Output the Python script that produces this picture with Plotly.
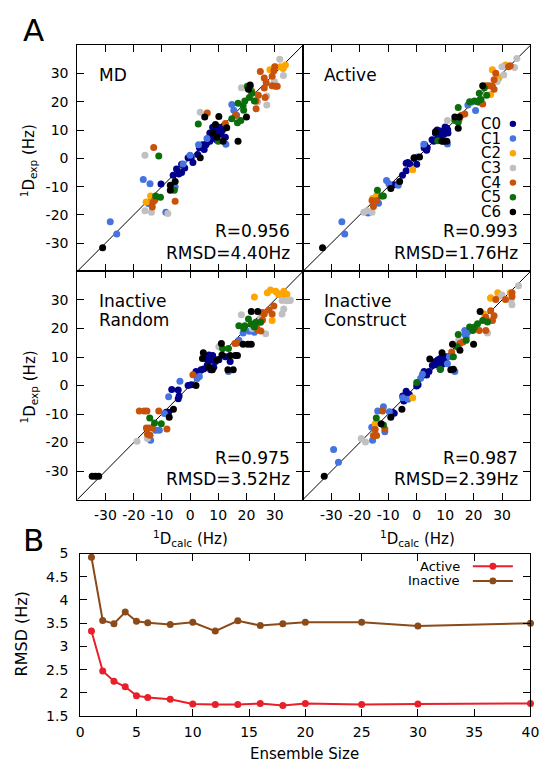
import plotly.graph_objects as go

W, H = 560, 775
FONT = "DejaVu Sans"

# ---------------- data ----------------
CLUSTERS = ["C0", "C1", "C2", "C3", "C4", "C5", "C6"]
CLUSTER_COLORS = ["#00008b", "#4573e0", "#ffa500", "#c0c0c0", "#c8520a", "#0b6e0b", "#000000"]

AXIS_RANGE = [-40, 40]
TICKS_A = [-30, -20, -10, 0, 10, 20, 30]
TICKTEXT_A = ["-30", "-20", "-10", "0", "10", "20", "30"]

# (cluster index, 1D_calc, 1D_exp)
md_points = [
    (0, -10.3, -9.1), (0, -6, -6), (0, -4, -5.5), (0, -4.8, -3.8), (0, -3, -2.1), (0, -3, -5), (0, -1.9, -3.4),
    (0, -0.7, 0.2), (0, 0.4, 0.2), (0, 1, -1.5), (0, 2.7, 1.4), (0, 3.3, 3.7), (0, 4.4, 4.8), (0, 5, 3.1),
    (0, 5.6, 4.8), (0, 6.5, 7), (0, 7, 6), (0, 7.5, 8.5), (0, 8, 7), (0, 8.5, 9.5), (0, 9, 8), (0, 9.5, 10.5),
    (0, 10, 9), (0, 10.5, 11), (0, 11, 8.5), (0, 11.5, 10), (0, 12, 11.5), (0, 8, 11), (0, 7, 9), (0, 12.5, 7.5),
    (0, 6, 5.5), (0, 9.5, 6.5),
    (1, -28.3, -22.4), (1, -26, -26.8), (1, -16.6, -7.5), (1, -14.2, -9), (1, -5.3, -10.1), (1, -8.6, -19.1),
    (1, -14.8, -16), (1, 0, 1.1), (1, 3, 4.8), (1, 12.7, 5), (1, 14.8, 19), (1, 16.5, 15.2), (1, 15.5, 17),
    (1, -2.5, -2), (1, 6, 7),
    (2, -15.6, -15.4), (2, -14, -13.3), (2, 28.3, 31.3), (2, 30.2, 32.4), (2, 32, 32.4), (2, 33.8, 33),
    (2, 33, 31.8), (2, 22, 23),
    (3, -16, 1.1), (3, -16, -18.5), (3, -13.7, -19.1), (3, -7.9, -19.5), (3, 3.6, 16.3), (3, 18.2, 25),
    (3, 27.2, 22), (3, 27.2, 18.9), (3, 29.9, 27.2), (3, 31.8, 35), (3, 33.1, 29.3), (3, 20, 25), (3, 24, 20),
    (4, -12.9, 3.8), (4, -13, -15.3), (4, -13.4, -17.2), (4, -12.5, -14.7), (4, -5.3, -15.2), (4, 6.1, 16),
    (4, 12.5, 12.3), (4, 16.1, 15.2), (4, 21.9, 23.7), (4, 23.4, 20.3), (4, 24.9, 30.7), (4, 26.3, 28.4),
    (4, 27, 26.7), (4, 26.3, 24.9), (4, 24.2, 22.3), (4, 23.4, 17.5), (4, 26.6, 21.5), (4, 29.1, 25.7),
    (4, 30.2, 25.5), (4, 30.9, 25.5), (4, 29.1, 29), (4, 30, 32.4), (4, 29.7, 31),
    (5, -11.1, 0.8), (5, -12.2, -13.3), (5, -10.5, -13.8), (5, -5.6, -11.3), (5, 2.9, 12.1), (5, 10, 6),
    (5, 14.8, 14), (5, 16.8, 12.6), (5, 18, 13.4), (5, 18.8, 18.6), (5, 19.4, 20.3), (5, 21, 21.5),
    (5, 21.9, 23), (5, 20.3, 25.5), (5, 21.3, 25.5), (5, 22.8, 20.3), (5, 17, 19.5), (5, 19, 17),
    (6, -31, -31.6), (6, -7, -9.5), (6, -7, -11.3), (6, -5.3, -8.2), (6, 3.6, 0.2), (6, 5.2, 14.6),
    (6, 10.2, 14.8), (6, 9, 12), (6, 13, 10.8), (6, 11.7, 6), (6, 17, 6), (6, 20, 14.6), (6, 21.3, 25.9),
    (6, 20.7, 24.4), (6, 9.5, 7.5), (6, 8, 9),
]

active_points = [
    (0, -7.9, -9.3), (0, -5, -6), (0, -3.7, -4.4), (0, -3.1, -1.5), (0, -2.5, -2), (0, -3.7, -1.7), (0, 0, -2.1),
    (0, -0.9, 0), (0, 2.8, 4.8), (0, 3.7, 3.7), (0, 2.6, 3.7), (0, 3.5, 2.9), (0, 5.4, 6.6), (0, 6.6, 8.9),
    (0, 7.2, 10), (0, 8.3, 9.7), (0, 8.9, 8.9), (0, 10, 11.1), (0, 10.6, 10.6), (0, 9.5, 8.4), (0, 8.3, 7.9),
    (0, 6, 6), (0, 10.9, 10), (0, 7.5, 7.5), (0, 11, 9),
    (1, -26.3, -22.4), (1, -25.3, -26.8), (1, -17.1, -19.3), (1, -13.4, -15.9), (1, -10.6, -7.8),
    (1, -9.8, -9), (1, -6.5, -9.5), (1, 0.3, 0.5), (1, 2.5, 5), (1, 10.8, 5.1), (1, 18, 18.9), (1, 19.2, 19.8),
    (1, 20.7, 16.9),
    (2, -14.2, -13.3), (2, -15.5, -14.2), (2, -1.4, -4), (2, 26, 22.6), (2, 26.6, 31.3), (2, 31.2, 33),
    (2, 28.9, 28.4),
    (3, -18.6, -19.1), (3, -15.7, -19.1), (3, -17.5, -18.5), (3, 10.8, 13.4), (3, 28.3, 27.2), (3, 30, 32.4),
    (3, 30.6, 29.5), (3, 34.4, 32.1), (3, 35.2, 35.3),
    (4, -15.2, -17), (4, -15.7, -14.9), (4, -14, -14.9), (4, 15.7, 15.2), (4, 16.9, 15.7), (4, 15, 14),
    (4, 23.2, 19.2), (4, 22, 19.8), (4, 24.4, 25.7), (4, 25.5, 25.7), (4, 26.6, 25.5), (4, 27.2, 24.4),
    (4, 27.2, 27.8), (4, 27.8, 30.1), (4, 32.3, 32.4), (4, 32.9, 32.7),
    (5, -13.8, -11.3), (5, -12.3, -13.3), (5, -11.7, -13.3), (5, 7.4, 6.2), (5, 13.4, 13.4), (5, 14.6, 12.8),
    (5, 14.6, 18), (5, 18.6, 20), (5, 20.3, 20.3), (5, 21.4, 20), (5, 22, 23), (5, 23.8, 25), (5, 22.6, 20.8),
    (5, 24.6, 22.3),
    (6, -33.1, -31.6), (6, -9.1, -10.7), (6, -6, -8.2), (6, -0.9, 0.2), (6, 1, 0.5), (6, 6.6, 9.4),
    (6, 8.9, 6), (6, 10.6, 6), (6, 9.5, 6), (6, 14.6, 10.6), (6, 13.4, 14.6), (6, 15, 14.6), (6, 23.2, 25.7),
]

inactive_random_points = [
    (0, -8.5, -9.4), (0, -7.6, -9.4), (0, -6.5, -1.4), (0, -4.2, -1.6), (0, -3.9, -3.7), (0, -4.2, -4.6),
    (0, -0.7, 0), (0, 0.4, 0.3), (0, 2.1, 4.9), (0, 3.9, 5.5), (0, 5.6, 9.5), (0, 6.7, 10.7), (0, 7.9, 9),
    (0, 6.1, 7.2), (0, 7.3, 5.5), (0, 8.4, 6.4), (0, 4.8, 5.8), (0, 9, 8.4), (0, 10.2, 9), (0, 14.2, 8.4),
    (0, 12.5, 10.1), (0, 6.5, 8.5), (0, 8, 10.5),
    (1, -14, -19.2), (1, -12.2, -15.7), (1, -10.9, -15.7), (1, -9.1, -9.8), (1, -7.6, -3.9), (1, -3.6, 1.5),
    (1, 3.3, 3.2), (1, 2.5, 2.5), (1, 13.6, 4.9), (1, 17.3, 15.9), (1, 18.8, 18.4), (1, 22.8, 18.7),
    (1, 21, 19),
    (2, 22.8, 31), (2, 27.4, 32.5), (2, 30.3, 33.1), (2, 31.4, 32), (2, 32.6, 31.4), (2, 33.2, 33.1),
    (2, 34.3, 32), (2, 30.6, 32.8), (2, 29.1, 22.8), (2, 28.5, 33.5),
    (3, -18.8, -19.5), (3, -15.1, -18.6), (3, 10.2, 13.6), (3, 18.2, 24.8), (3, 26.8, 18.2), (3, 25, 23.5),
    (3, 33.2, 26.8), (3, 32.6, 25.1), (3, 34.3, 29.7), (3, 35.4, 29.8), (3, 32.6, 29.8), (3, 35.5, 30),
    (3, 22, 20),
    (4, -18, -8.9), (4, -16.3, -8.9), (4, -15.3, -8.9), (4, -11.1, -8.9), (4, -15.5, -14.9), (4, -14.5, -14.9),
    (4, -13.4, -14.9), (4, -15.1, -17.1), (4, -14.2, -17.4), (4, -8.2, -15.2), (4, 1, 3.8), (4, 15.9, 14.7),
    (4, 16.8, 14.9), (4, 25.7, 25.6), (4, 25.1, 19.1), (4, 24, 19.6), (4, 23.5, 21), (4, 26.3, 25.1),
    (4, 29.1, 25.1), (4, 29.7, 27.9), (4, 28, 26.5), (4, 25.7, 23),
    (5, -14.3, -11.4), (5, -12.6, -13.1), (5, -10.2, -13.4), (5, 11.5, 13), (5, 13.6, 13), (5, 17.3, 21),
    (5, 19.4, 21), (5, 21.7, 21.6), (5, 23.3, 22.2), (5, 25, 22.2), (5, 20.7, 23.3), (5, 22.8, 20.5),
    (5, 19, 20),
    (6, -34.7, -31.8), (6, -33.5, -31.8), (6, -32.4, -31.8), (6, -7.4, -11.1), (6, -5.9, -8.3), (6, 2.1, 0),
    (6, 4.7, 11.5), (6, 4.4, 9.5), (6, 6.5, 6.4), (6, 7.9, 5.5), (6, 9.6, 9), (6, 11.3, 10.7), (6, 13.4, 5.5),
    (6, 15.3, 5.5), (6, 11.1, 14.7), (6, 14.2, 10.5), (6, 16.8, 10.5), (6, 16, 10.5), (6, 18.8, 14.5),
    (6, 21.7, 14.5), (6, 20.5, 14.5), (6, 21.7, 26), (6, 24, 26),
]

inactive_construct_points = [
    (0, -7.9, -9.7), (0, -8.5, -9.4), (0, -4.5, -5.4), (0, -3.7, -2), (0, -4.9, -3.7), (0, -2.6, -3.1),
    (0, 0, -0.2), (0, 0.5, 0.3), (0, 2.6, 4.9), (0, 4.3, 4.9), (0, 3.5, 3.7), (0, 6.6, 8.4), (0, 8.3, 9.5),
    (0, 9.4, 10.1), (0, 10, 9), (0, 10.5, 10.1), (0, 7.2, 7.2), (0, 8.3, 5.7), (0, 9, 7.5), (0, 7.5, 9),
    (0, 5.5, 7), (0, 10, 8),
    (1, -29.2, -22.4), (1, -27.5, -26.9), (1, -15.5, -19.2), (1, -13.7, -8.9), (1, -11.7, -7.4),
    (1, -11.2, -16.2), (1, -15.8, -14.6), (1, -9.6, -9.2), (1, -4.9, -4.3), (1, -3.1, -4.8), (1, 1.4, 2.6),
    (1, 2, 4), (1, 10.8, 7.6), (1, 13.4, 4.9), (1, 11.5, 10.1), (1, 12.3, 10.1), (1, 16.9, 19.3),
    (1, 17.4, 17), (1, 17.9, 18.7), (1, 17, 18),
    (2, -14.6, -13.4), (2, -1.4, -4.3), (2, 23.8, 25.1), (2, 26.6, 22.8), (2, 26, 30.8), (2, 28.9, 31.4),
    (2, 32.9, 32.5), (2, 28.5, 32.5), (2, 26, 30.6),
    (3, -19.5, -18.6), (3, -18, -19.8), (3, 14.8, 15.9), (3, 24.9, 18.4), (3, 29.8, 31.4), (3, 33.2, 29.7),
    (3, 30, 31.7), (3, 35.8, 35), (3, 33.5, 28.3),
    (4, -12, -8.9), (4, -14.6, -15.4), (4, -15.2, -17.5), (4, -14.1, -17.5), (4, -11.2, -15.2),
    (4, 12.3, 11.8), (4, 15.2, 14.7), (4, 16.3, 15.3), (4, 22, 19.3), (4, 24.3, 19.3), (4, 24.3, 23.9),
    (4, 26, 26.2), (4, 27.2, 24.5), (4, 26.6, 22.8), (4, 27.8, 30.2), (4, 31.2, 30.2), (4, 33.5, 32.5),
    (4, 33.5, 31.2),
    (5, -14.2, -11.4), (5, -11.7, -13.8), (5, 0, 1.1), (5, 8.3, 5.7), (5, 12.9, 10.1), (5, 14.2, 13.6),
    (5, 14.6, 17.9), (5, 17.4, 15.9), (5, 18.6, 20.5), (5, 20.3, 20.5), (5, 19.7, 19.3), (5, 21.4, 21.7),
    (5, 23.2, 22.8), (5, 24.9, 22.3),
    (6, -32.5, -31.8), (6, -12.5, -13.4), (6, -9.1, -11.1), (6, -5.2, -8.3), (6, 4.6, 9.3), (6, 8.9, 11.5),
    (6, 12, 5.5), (6, 12.9, 5.7), (6, 12.6, 14.5), (6, 15.2, 12.4), (6, 20, 14.5), (6, 22.3, 26),
]

PANEL_POINTS = [md_points, active_points, inactive_random_points, inactive_construct_points]
PANEL_NAMES = [["MD"], ["Active"], ["Inactive", "Random"], ["Inactive", "Construct"]]
PANEL_R = ["0.956", "0.993", "0.975", "0.987"]
PANEL_RMSD = ["4.40", "1.76", "3.52", "2.39"]

ensemble_size = [1, 2, 3, 4, 5, 6, 8, 10, 12, 14, 16, 18, 20, 25, 30, 40]
rmsd_active = [3.33, 2.47, 2.25, 2.13, 1.94, 1.90, 1.86, 1.76, 1.75, 1.75, 1.77, 1.73, 1.77, 1.75, 1.76, 1.77]
rmsd_inactive = [4.92, 3.56, 3.49, 3.74, 3.54, 3.51, 3.47, 3.52, 3.33, 3.55, 3.45, 3.49, 3.52, 3.52, 3.44, 3.50]
B_SERIES = [("Active", rmsd_active, "#e8202a"), ("Inactive", rmsd_inactive, "#8b4a1a")]
B_XTICKS = [0, 5, 10, 15, 20, 25, 30, 35, 40]
B_YTICKS = [1.5, 2, 2.5, 3, 3.5, 4, 4.5, 5]
B_YTICKTEXT = ["1.5", "2", "2.5", "3", "3.5", "4", "4.5", "5"]

# ---------------- layout helpers (pixel -> paper) ----------------
def fx(px):
    return px / W

def fy(py):
    return 1 - py / H

# panel boxes in pixels: (left, right, top, bottom)
PANEL_BOX = [(75, 306, 38, 269), (306, 539, 38, 269), (75, 306, 269, 502), (306, 539, 269, 502)]
B_BOX = (78, 539, 557, 723)

fig = go.Figure()
layout = {}

axis_common = dict(
    showline=True, linecolor="black", linewidth=1, mirror="ticks", ticks="inside",
    ticklen=7, tickcolor="black", tickwidth=1, showgrid=False, zeroline=False, tickangle=0,
    tickfont=dict(family=FONT, size=14, color="black"),
)

for i, pts in enumerate(PANEL_POINTS):
    n = i + 1
    xa = "x" if n == 1 else f"x{n}"
    ya = "y" if n == 1 else f"y{n}"
    l, r, t, b = PANEL_BOX[i]
    layout["xaxis" if n == 1 else f"xaxis{n}"] = dict(
        axis_common, domain=[fx(l), fx(r)], range=AXIS_RANGE, tickvals=TICKS_A, ticktext=TICKTEXT_A,
        anchor=ya, showticklabels=(i >= 2), ticklabelstandoff=3,
    )
    layout["yaxis" if n == 1 else f"yaxis{n}"] = dict(
        axis_common, domain=[fy(b), fy(t)], range=AXIS_RANGE, tickvals=TICKS_A, ticktext=TICKTEXT_A,
        anchor=xa, showticklabels=(i % 2 == 0), ticklabelstandoff=5,
    )
    # y = x reference line across the axis range
    fig.add_trace(go.Scatter(x=AXIS_RANGE, y=AXIS_RANGE, mode="lines",
                             line=dict(color="black", width=1), xaxis=xa, yaxis=ya,
                             showlegend=False, hoverinfo="skip"))
    for c, name in enumerate(CLUSTERS):
        xs = [p[1] for p in pts if p[0] == c]
        ys = [p[2] for p in pts if p[0] == c]
        fig.add_trace(go.Scatter(x=xs, y=ys, mode="markers", name=name,
                                 marker=dict(color=CLUSTER_COLORS[c], size=7, line=dict(width=0)),
                                 xaxis=xa, yaxis=ya, showlegend=False))

# panel B
layout["xaxis5"] = dict(axis_common, domain=[fx(B_BOX[0]), fx(B_BOX[1])], range=[0, 40],
                        tickvals=B_XTICKS, anchor="y5", ticklabelstandoff=3)
layout["yaxis5"] = dict(axis_common, domain=[fy(B_BOX[3]), fy(B_BOX[2])], range=[1.5, 5],
                        tickvals=B_YTICKS, ticktext=B_YTICKTEXT, anchor="x5", ticklabelstandoff=8)
for name, vals, color in B_SERIES:
    fig.add_trace(go.Scatter(x=ensemble_size, y=vals, mode="lines+markers", name=name,
                             line=dict(color=color, width=2), marker=dict(color=color, size=7),
                             xaxis="x5", yaxis="y5", showlegend=False, cliponaxis=False))

annotations = []
shapes = []

def txt(text, x, y, size, xanchor="center", yanchor="middle", angle=0):
    annotations.append(dict(text=text, x=fx(x), y=fy(y), xref="paper", yref="paper",
                            showarrow=False, xanchor=xanchor, yanchor=yanchor, textangle=angle,
                            font=dict(family=FONT, size=size, color="black")))

# panel texts
for i in range(4):
    l, r, t, b = PANEL_BOX[i]
    for k, line in enumerate(PANEL_NAMES[i]):
        txt(line, l + 20, t + 30 + 20 * k, 17, xanchor="left")
    txt(f"R={PANEL_R[i]}", r - 11, t + 190, 17, xanchor="right")
    txt(f"RMSD={PANEL_RMSD[i]}Hz", r - 11, t + 212, 17, xanchor="right")

# cluster legend in Active panel
for c, name in enumerate(CLUSTERS):
    yy = 118.3 + 15 * c
    txt(name, 511, yy, 15, xanchor="right")
    shapes.append(dict(type="circle", xref="paper", yref="paper",
                       x0=fx(521 - 3.3), x1=fx(521 + 3.3), y0=fy(yy + 3.3), y1=fy(yy - 3.3),
                       fillcolor=CLUSTER_COLORS[c], line=dict(width=0)))

# panel B legend
for k, (name, vals, color) in enumerate(B_SERIES):
    yy = 570 + 15 * k
    txt(name, 469, yy, 13, xanchor="right")
    shapes.append(dict(type="line", xref="paper", yref="paper", x0=fx(480), x1=fx(521),
                       y0=fy(yy), y1=fy(yy), line=dict(color=color, width=2)))
    shapes.append(dict(type="circle", xref="paper", yref="paper",
                       x0=fx(500.5 - 3.5), x1=fx(500.5 + 3.5), y0=fy(yy + 3.5), y1=fy(yy - 3.5),
                       fillcolor=color, line=dict(width=0)))

# axis titles
for py in (156, 387):
    txt("<sup>1</sup>D<sub>exp</sub> (Hz)", 25, py, 15, angle=-90)
for px in (191, 423):
    txt("<sup>1</sup>D<sub>calc</sub> (Hz)", px, 542, 15)
txt("RMSD (Hz)", 18, 639, 16, angle=-90)
txt("Ensemble Size", 308, 762, 15)

# big panel letters
txt("A", 30, 22, 31)
txt("B", 30, 543, 31)

layout.update(dict(
    width=W, height=H, margin=dict(l=0, r=0, t=0, b=0),
    paper_bgcolor="white", plot_bgcolor="white",
    annotations=annotations, shapes=shapes, showlegend=False,
    font=dict(family=FONT, color="black"),
))
fig.update_layout(**layout)
fig.write_html("out.html", config={"displayModeBar": False},
               post_script="document.body.style.margin='0px';document.body.style.overflow='hidden';")
